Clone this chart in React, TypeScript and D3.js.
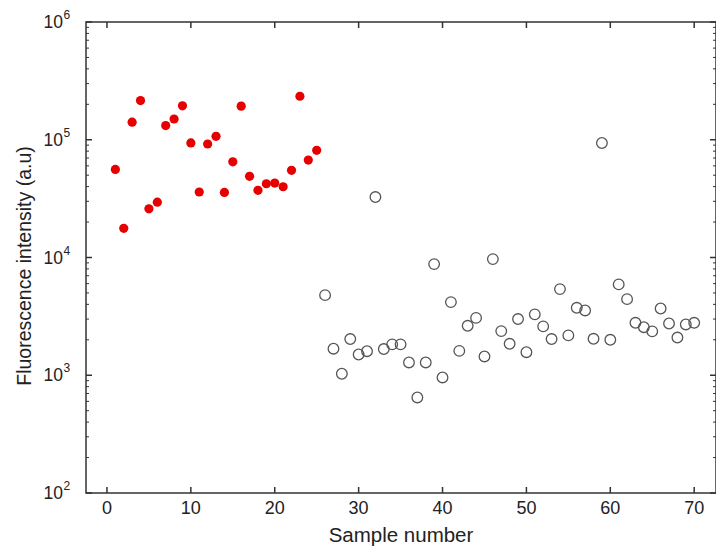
import React from 'react';
import * as d3 from 'd3';

// positive samples (filled red) and negative samples (open circles)
const redSamples = [1, 2, 3, 4, 5, 6, 7, 8, 9, 10, 11, 12, 13, 14, 15, 16, 17, 18, 19, 20, 21, 22, 23, 24, 25];
const redValues = [56000, 17700, 141000, 215000, 25900, 29500, 132000, 150000, 194000, 94000, 36000, 92000, 107000,
  35700, 65000, 193000, 48900, 37200, 42300, 42900, 39900, 55000, 234000, 67200, 81300];

const openSamples = [26, 27, 28, 29, 30, 31, 32, 33, 34, 35, 36, 37, 38, 39, 40, 41, 42, 43, 44, 45, 46, 47, 48,
  49, 50, 51, 52, 53, 54, 55, 56, 57, 58, 59, 60, 61, 62, 63, 64, 65, 66, 67, 68, 69, 70];
const openValues = [4790, 1680, 1030, 2030, 1500, 1600, 32600, 1670, 1830, 1830, 1285, 648, 1285, 8790, 958, 4180,
  1610, 2630, 3070, 1445, 9690, 2370, 1850, 3000, 1570, 3290, 2600, 2030, 5390, 2180, 3740, 3550, 2040, 93800,
  2000, 5910, 4430, 2790, 2560, 2360, 3690, 2750, 2090, 2700, 2790];

const xTicks = [0, 10, 20, 30, 40, 50, 60, 70];
const yDecades = [2, 3, 4, 5, 6];

const W = 716, H = 552;
const left = 86, right = 716, top = 22, bottom = 493;
const axisColor = '#333';
const font = 'Liberation Sans, Arial, sans-serif';

export default function App() {
  const x = d3.scaleLinear().domain([-2.5, 72.6]).range([left, right]);
  const y = d3.scaleLog().domain([100, 1e6]).range([bottom, top]);

  const minor: number[] = [];
  yDecades.slice(0, -1).forEach(p => {
    for (let m = 2; m <= 9; m++) minor.push(m * Math.pow(10, p));
  });

  return (
    <svg width={W} height={H} style={{ position: 'absolute', left: 0, top: 0, background: '#fff' }}>
      <rect x={left} y={top} width={right - left} height={bottom - top} fill="none" stroke={axisColor} strokeWidth={1.5} />
      {xTicks.map(t => (
        <g key={'x' + t}>
          <line x1={x(t)} x2={x(t)} y1={bottom} y2={bottom - 6} stroke={axisColor} strokeWidth={1.5} />
          <line x1={x(t)} x2={x(t)} y1={top} y2={top + 6} stroke={axisColor} strokeWidth={1.5} />
          <text x={x(t)} y={bottom + 21} textAnchor="middle" fontFamily={font} fontSize={18} fill="#222">{t}</text>
        </g>
      ))}
      {yDecades.map(p => (
        <g key={'y' + p}>
          <line x1={left} x2={left + 6} y1={y(Math.pow(10, p))} y2={y(Math.pow(10, p))} stroke={axisColor} strokeWidth={1.5} />
          <line x1={right} x2={right - 6} y1={y(Math.pow(10, p))} y2={y(Math.pow(10, p))} stroke={axisColor} strokeWidth={1.5} />
          <text x={63} y={y(Math.pow(10, p)) + 6} textAnchor="end" fontFamily={font} fontSize={17.5} fill="#222">10</text>
          <text x={63.5} y={y(Math.pow(10, p)) - 3} fontFamily={font} fontSize={12} fill="#222">{p}</text>
        </g>
      ))}
      {minor.map(v => (
        <g key={'m' + v}>
          <line x1={left} x2={left + 3} y1={y(v)} y2={y(v)} stroke={axisColor} strokeWidth={1} />
          <line x1={right} x2={right - 3} y1={y(v)} y2={y(v)} stroke={axisColor} strokeWidth={1} />
        </g>
      ))}
      {openSamples.map((s, i) => (
        <circle key={'o' + s} cx={x(s)} cy={y(openValues[i])} r={5.3} fill="none" stroke="#555" strokeWidth={1.3} />
      ))}
      {redSamples.map((s, i) => (
        <circle key={'r' + s} cx={x(s)} cy={y(redValues[i])} r={4.6} fill="#e60000" />
      ))}
      <text x={401} y={542} textAnchor="middle" fontFamily={font} fontSize={20.5} fill="#222">Sample number</text>
      <text transform="translate(31,266) rotate(-90)" textAnchor="middle" fontFamily={font} fontSize={19.5} fill="#222">
        Fluorescence intensity (a.u)
      </text>
    </svg>
  );
}
